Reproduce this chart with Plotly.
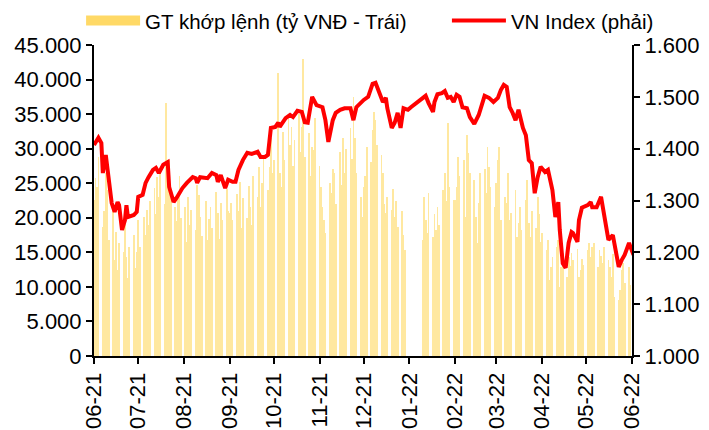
import pandas as pd
import plotly.graph_objects as go

# ---- Data ----
# VN Index (right axis)
idx_dates = ["2021-06-01","2021-06-04","2021-06-06","2021-06-07","2021-06-09","2021-06-11","2021-06-13","2021-06-15",
 "2021-06-17","2021-06-18","2021-06-19","2021-06-20","2021-06-22","2021-06-23","2021-06-24","2021-06-28","2021-06-30",
 "2021-07-01","2021-07-04","2021-07-06","2021-07-08","2021-07-11","2021-07-13","2021-07-15","2021-07-18","2021-07-21",
 "2021-07-22","2021-07-24","2021-07-25","2021-07-27","2021-07-31","2021-08-03","2021-08-07","2021-08-09","2021-08-10",
 "2021-08-12","2021-08-17","2021-08-20","2021-08-23","2021-08-24","2021-08-26","2021-08-29","2021-08-31","2021-09-03",
 "2021-09-05","2021-09-07","2021-09-10","2021-09-13","2021-09-16","2021-09-20","2021-09-22","2021-09-25","2021-09-27",
 "2021-09-29","2021-10-02","2021-10-04","2021-10-05","2021-10-09","2021-10-12","2021-10-14","2021-10-17","2021-10-20",
 "2021-10-22","2021-10-24","2021-10-27","2021-10-30","2021-11-03","2021-11-05","2021-11-07","2021-11-10","2021-11-12",
 "2021-11-15","2021-11-18","2021-11-22","2021-11-24","2021-11-26","2021-11-29","2021-12-01","2021-12-04","2021-12-07",
 "2021-12-09","2021-12-11","2021-12-13","2021-12-14","2021-12-16","2021-12-17","2021-12-20","2021-12-22","2021-12-24",
 "2021-12-26","2021-12-28","2021-12-31","2022-01-02","2022-01-12","2022-01-14","2022-01-17","2022-01-18","2022-01-20",
 "2022-01-23","2022-01-25","2022-01-27","2022-01-29","2022-01-31","2022-02-02","2022-02-04","2022-02-06","2022-02-09",
 "2022-02-11","2022-02-14","2022-02-17","2022-02-21","2022-02-24","2022-02-27","2022-03-02","2022-03-04","2022-03-06",
 "2022-03-08","2022-03-10","2022-03-12","2022-03-14","2022-03-16","2022-03-17","2022-03-19","2022-03-21","2022-03-23",
 "2022-03-25","2022-03-27","2022-03-29","2022-03-31","2022-04-03","2022-04-05","2022-04-08","2022-04-10","2022-04-12",
 "2022-04-13","2022-04-15","2022-04-17","2022-04-19","2022-04-21","2022-04-22","2022-04-25","2022-04-26","2022-04-28",
 "2022-05-02","2022-05-04","2022-05-05","2022-05-08","2022-05-11","2022-05-14","2022-05-16","2022-05-19","2022-05-21",
 "2022-05-23","2022-05-25","2022-05-27","2022-05-30","2022-06-02"]
idx_values = [1407,1421,1411,1353,1388,1345,1295,1278,
 1297,1291,1268,1243,1262,1291,1268,1272,1278,
 1307,1311,1334,1345,1359,1363,1353,1369,1374,
 1326,1301,1297,1305,1324,1334,1345,1343,1334,
 1345,1343,1353,1349,1336,1349,1324,1340,1336,
 1336,1359,1378,1392,1390,1394,1384,1384,1388,
 1440,1442,1450,1442,1459,1465,1461,1473,1471,
 1451,1450,1500,1484,1480,1455,1413,1455,1469,
 1475,1478,1478,1455,1480,1490,1494,1500,1525,
 1527,1513,1500,1490,1498,1478,1440,1450,1469,
 1440,1478,1475,1480,1502,1488,1471,1490,1505,
 1507,1511,1498,1500,1490,1504,1500,1480,1478,
 1461,1448,1465,1502,1498,1490,1498,1513,1523,
 1519,1480,1469,1455,1475,1461,1440,1426,1378,
 1372,1314,1345,1365,1355,1359,1320,1268,1297,
 1243,1179,1170,1218,1239,1237,1220,1262,1286,
 1291,1297,1287,1287,1307,1259,1224,1233,1199,
 1172,1185,1195,1218,1195]

# Trading value, billion VND (left axis), one value per trading day, by month
val_jun21 = [22600,25700,24500,28800,18700,21000,26500,24000,16800,22000,13900,18000,12400,16300,15000,19500,14300,11300,15800,17500,12800,15000]
val_jul21 = [19700,15800,20100,17500,21100,19000,22500,24300,20500,25900,23000,26800,22000,36600,25500,28400,24000,21600,19500,23500,26000,20000]
val_aug21 = [21600,16500,23000,19000,21100,18200,24800,23300,20100,17300,22500,16800,19800,21500,18500,23800,20700,17000,22100,19700,24200,21000]
val_sep21 = [20700,22100,19700,23500,21000,25200,18500,22800,20000,24600,21500,19000,26000,23000,27300,21500,25000,28500,24000,27300,31500,26500]
val_oct21 = [28400,41000,26500,24500,32400,28400,34600,30500,33100,27500,31200,35000,29500,33100,43000,28800,32300,26000,30200,29800,34500]
val_nov21 = [27500,24500,21600,19700,17800,25000,23600,27000,26500,22000,29500,24800,31500,26500,30000,33000,28500,37500,31500,26500,23000,20100]
val_dec21 = [24500,26000,30200,28000,32700,35300,34100,30500,29100,26500,22000,20700,23000,21100,24200,20100,22500,18700,21000,17500,15300]
val_jan22 = [16800,23000,19700,17800,23600,17200,20500,18200,21600,19000,24000,26500,22500,33700,24500,22600]
val_feb22 = [22600,24500,28800,26000,28400,20100,32000,29400,26500,25500,20100,16300,22100,26500,27000,23600,30200,27300,24500,21600]
val_mar22 = [25000,28400,30200,19700,23000,22100,26500,19700,20700,24000,17200,19300,21600,18200,22600,25500,19300,17200,21000,18500,23000,20500,16500]
val_apr22 = [17800,15300,16800,11000,12900,14300,15800,16800,10000,12900,14900,11400,14300,13000,14900,13900,15500,11400,12500,14000,13200]
val_may22 = [15300,16300,14300,15800,16300,12900,15300,14500,13500,15800,13900,12900,11400,14800,8500,8100,9500,12400,13500,10600,12900,10300]

# trading-day windows for each month (market data break from 30-12 to 07-01)
month_windows = [("2021-06-01","2021-06-30"),("2021-07-01","2021-07-31"),("2021-08-01","2021-08-31"),
                 ("2021-09-01","2021-09-30"),("2021-10-01","2021-10-31"),("2021-11-01","2021-11-30"),
                 ("2021-12-01","2021-12-29"),("2022-01-10","2022-01-31"),("2022-02-01","2022-02-28"),
                 ("2022-03-01","2022-03-31"),("2022-04-01","2022-04-30"),("2022-05-01","2022-05-31")]
month_values = [val_jun21,val_jul21,val_aug21,val_sep21,val_oct21,val_nov21,val_dec21,
                val_jan22,val_feb22,val_mar22,val_apr22,val_may22]

bar_dates, bar_values = [], []
for (a, b), vals in zip(month_windows, month_values):
    days = pd.bdate_range(a, b)
    n = min(len(days), len(vals))
    bar_dates += list(days[:n])
    bar_values += vals[:n]

name_bar = "GT khớp lệnh (tỷ VNĐ - Trái)"
name_line = "VN Index (phải)"

FONT = "Liberation Sans"
BAR_COLOR = "#FFE8A0"

fig = go.Figure()
fig.add_trace(go.Bar(x=bar_dates, y=bar_values, name=name_bar, showlegend=False,
                     marker=dict(color=BAR_COLOR, line=dict(width=0)),
                     width=86400000 * 0.55, yaxis="y"))
# legend swatch for the bars (wide rectangle like the original)
fig.add_trace(go.Scatter(x=[None], y=[None], mode="lines", name=name_bar, legend="legend",
                         line=dict(color="#FFD966", width=11), yaxis="y"))
fig.add_trace(go.Scatter(x=idx_dates, y=idx_values, mode="lines", name=name_line, legend="legend2",
                         line=dict(color="#FF0000", width=4), yaxis="y2"))

axis_common = dict(showline=True, linecolor="black", linewidth=2, ticks="outside",
                   tickcolor="black", tickwidth=2, ticklen=6, showgrid=False, zeroline=False,
                   tickfont=dict(family=FONT, size=22, color="black"))

legend_common = dict(orientation="h", xanchor="left", y=1.078, yanchor="middle",
                     font=dict(family=FONT, size=20.5, color="black"), itemwidth=54,
                     bgcolor="rgba(0,0,0,0)")

# the page body adds an 8 px margin, so the figure is 8 px smaller than the window
fig.update_layout(
    width=701, height=422,
    margin=dict(l=86, r=77, t=37, b=74, autoexpand=False),
    paper_bgcolor="white", plot_bgcolor="white",
    separators=",.",
    font=dict(family=FONT, size=20, color="black"),
    bargap=0,
    xaxis=dict(type="date", range=["2021-06-01", "2022-06-01"], dtick="M1", tick0="2021-06-01",
               tickformat="%m-%y", tickangle=-90, **axis_common),
    yaxis=dict(range=[0, 45000], dtick=5000, tickformat=",d", **axis_common),
    yaxis2=dict(range=[1000, 1600], dtick=100, tickformat=",d", overlaying="y", side="right",
                **axis_common),
    legend=dict(x=-0.024, **legend_common),
    legend2=dict(x=0.656, **legend_common),
    showlegend=True,
)

fig.write_html("out.html")
